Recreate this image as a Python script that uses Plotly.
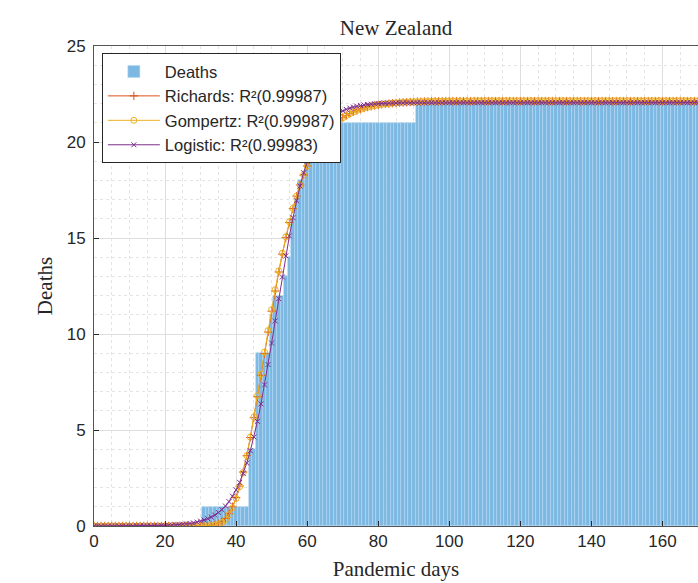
import plotly.graph_objects as go

# ---------------- data ----------------
days = list(range(0, 171))

deaths = (
    [0, 0, 0, 0, 0, 0, 0, 0, 0, 0, 0, 0, 0, 0, 0, 0, 0, 0, 0, 0,
     0, 0, 0, 0, 0, 0, 0, 0, 0, 0, 0]
    + [1, 1, 1, 1, 1, 1, 1, 1, 1, 1, 1, 1, 1]
    + [4, 4, 9, 9, 9, 9, 11, 12, 12, 12, 13, 14, 16, 17, 18, 18, 19, 19, 19]
    + [20, 20, 20, 20, 20, 20]
    + [21, 21, 21, 21, 21, 21, 21, 21, 21, 21, 21, 21, 21, 21, 21, 21, 21, 21, 21, 21, 21, 21]
    + [22, 22, 22, 22, 22, 22, 22, 22, 22, 22, 22, 22, 22, 22, 22, 22, 22, 22, 22, 22,
       22, 22, 22, 22, 22, 22, 22, 22, 22, 22, 22, 22, 22, 22, 22, 22, 22, 22, 22, 22,
       22, 22, 22, 22, 22, 22, 22, 22, 22, 22, 22, 22, 22, 22, 22, 22, 22, 22, 22, 22,
       22, 22, 22, 22, 22, 22, 22, 22, 22, 22, 22, 22, 22, 22, 22, 22, 22, 22, 22, 22]
)

richards = (
    [0.00, 0.00, 0.00, 0.00, 0.00, 0.00, 0.00, 0.00, 0.00, 0.00, 0.00, 0.00, 0.00, 0.00, 0.00, 0.00,
     0.00, 0.00, 0.00, 0.00, 0.00, 0.00, 0.00, 0.00, 0.00, 0.00, 0.00, 0.00, 0.00, 0.00, 0.00, 0.00]
    + [0.01, 0.03, 0.06, 0.12, 0.22, 0.39, 0.64, 1.00, 1.48, 2.08, 2.81, 3.66, 4.61, 5.64, 6.73, 7.85,
       8.98, 10.10, 11.19, 12.24, 13.23, 14.16, 15.02, 15.81, 16.53, 17.18, 17.76, 18.28, 18.75, 19.16,
       19.53, 19.86, 20.15, 20.40, 20.62, 20.82, 20.99, 21.14, 21.27, 21.38, 21.48, 21.57, 21.64, 21.71,
       21.77, 21.82, 21.86, 21.90, 21.93, 21.96, 21.98, 22.00, 22.02, 22.03, 22.05, 22.06, 22.07, 22.08,
       22.09, 22.10, 22.10, 22.11, 22.11, 22.12, 22.12, 22.12, 22.12, 22.13]
    + [22.13, 22.13, 22.13, 22.13, 22.13, 22.13, 22.13]
    + [22.13, 22.13, 22.13, 22.13, 22.13, 22.13, 22.13, 22.13, 22.13, 22.13, 22.13, 22.13, 22.13, 22.13, 22.13, 22.13,
       22.13, 22.13, 22.13, 22.13, 22.13, 22.13, 22.13, 22.13, 22.13, 22.13, 22.13, 22.13, 22.13, 22.13, 22.13, 22.13,
       22.13, 22.13, 22.13, 22.13, 22.13, 22.13, 22.13, 22.13, 22.13, 22.13, 22.13, 22.13, 22.13, 22.13, 22.13, 22.13,
       22.13, 22.13, 22.13, 22.13, 22.13, 22.13, 22.13, 22.13, 22.13, 22.13, 22.13, 22.13, 22.13, 22.13, 22.13, 22.13]
)

gompertz = (
    [0.00, 0.00, 0.00, 0.00, 0.00, 0.00, 0.00, 0.00, 0.00, 0.00, 0.00, 0.00, 0.00, 0.00, 0.00, 0.00,
     0.00, 0.00, 0.00, 0.00, 0.00, 0.00, 0.00, 0.00, 0.00, 0.00, 0.00, 0.00, 0.00, 0.00, 0.00, 0.00]
    + [0.01, 0.02, 0.04, 0.09, 0.18, 0.34, 0.59, 0.95, 1.43, 2.05, 2.79, 3.66, 4.63, 5.68, 6.79, 7.92,
       9.06, 10.18, 11.27, 12.31, 13.29, 14.21, 15.06, 15.84, 16.55, 17.19, 17.77, 18.29, 18.75, 19.16,
       19.53, 19.85, 20.14, 20.39, 20.61, 20.81, 20.98, 21.13, 21.26, 21.37, 21.47, 21.56, 21.64, 21.70,
       21.76, 21.81, 21.86, 21.89, 21.93, 21.96, 21.98, 22.00, 22.02, 22.04, 22.05, 22.07, 22.08, 22.09,
       22.10, 22.10, 22.11, 22.11, 22.12, 22.12, 22.13, 22.13, 22.13, 22.13]
    + [22.14, 22.14, 22.14, 22.14, 22.14, 22.14, 22.14]
    + [22.15, 22.15, 22.15, 22.15, 22.15, 22.15, 22.15, 22.15, 22.15, 22.15, 22.15, 22.15, 22.15, 22.15, 22.15, 22.15,
       22.15, 22.15, 22.15, 22.15, 22.15, 22.15, 22.15, 22.15, 22.15, 22.15, 22.15, 22.15, 22.15, 22.15, 22.15, 22.15,
       22.15, 22.15, 22.15, 22.15, 22.15, 22.15, 22.15, 22.15, 22.15, 22.15, 22.15, 22.15, 22.15, 22.15, 22.15, 22.15,
       22.15, 22.15, 22.15, 22.15, 22.15, 22.15, 22.15, 22.15, 22.15, 22.15, 22.15, 22.15, 22.15, 22.15, 22.15, 22.15]
)

logistic = (
    [0.00, 0.00, 0.00, 0.00, 0.00, 0.00, 0.00, 0.00, 0.00, 0.00, 0.00, 0.00,
     0.01, 0.01, 0.01, 0.01, 0.01, 0.02, 0.02, 0.02]
    + [0.03, 0.04, 0.05, 0.06, 0.07, 0.09, 0.11, 0.13, 0.16, 0.20, 0.25, 0.31, 0.38, 0.46, 0.57, 0.70,
       0.85, 1.04, 1.27, 1.55, 1.88, 2.27, 2.74, 3.28, 3.92, 4.64, 5.45, 6.36, 7.35, 8.41, 9.53, 10.68,
       11.84, 12.97, 14.07, 15.11, 16.06, 16.94, 17.71, 18.40, 18.99, 19.51, 19.94, 20.31, 20.62, 20.88,
       21.09, 21.26, 21.41, 21.53, 21.62, 21.70, 21.77, 21.82, 21.86, 21.90, 21.93, 21.95, 21.97, 21.99,
       22.00, 22.01, 22.02, 22.02, 22.03, 22.03, 22.04, 22.04, 22.04, 22.04, 22.04]
    + [22.05, 22.05, 22.05, 22.05, 22.05, 22.05, 22.05, 22.05, 22.05, 22.05, 22.05, 22.05, 22.05, 22.05, 22.05, 22.05,
       22.05, 22.05, 22.05, 22.05, 22.05, 22.05, 22.05, 22.05, 22.05, 22.05, 22.05, 22.05, 22.05, 22.05, 22.05, 22.05,
       22.05, 22.05, 22.05, 22.05, 22.05, 22.05, 22.05, 22.05, 22.05, 22.05, 22.05, 22.05, 22.05, 22.05, 22.05, 22.05,
       22.05, 22.05, 22.05, 22.05, 22.05, 22.05, 22.05, 22.05, 22.05, 22.05, 22.05, 22.05, 22.05, 22.05, 22.05, 22.05,
       22.05, 22.05, 22.05, 22.05, 22.05, 22.05, 22.05, 22.05, 22.05, 22.05, 22.05, 22.05, 22.05, 22.05, 22.05, 22.05]
)

labels = ["Deaths", "Richards: R²(0.99987)", "Gompertz: R²(0.99987)", "Logistic: R²(0.99983)"]
x_ticks = [0, 20, 40, 60, 80, 100, 120, 140, 160]
y_ticks = [0, 5, 10, 15, 20, 25]

# ---------------- figure ----------------
fig = go.Figure()
fig.add_trace(go.Bar(
    x=days, y=deaths, name=labels[0],
    marker=dict(color="#7cb8e2", line=dict(color="#b4d8f1", width=0.6)),
))
fig.add_trace(go.Scatter(
    x=days, y=richards, name=labels[1], mode="lines+markers",
    line=dict(color="#D95319", width=1),
    marker=dict(symbol="cross-thin", size=6, line=dict(color="#D95319", width=1)),
))
fig.add_trace(go.Scatter(
    x=days, y=gompertz, name=labels[2], mode="lines+markers",
    line=dict(color="#EDB120", width=1),
    marker=dict(symbol="circle-open", size=6, color="#EDB120", line=dict(color="#EDB120", width=1)),
))
fig.add_trace(go.Scatter(
    x=days, y=logistic, name=labels[3], mode="lines+markers",
    line=dict(color="#7E2F8E", width=1),
    marker=dict(symbol="x-thin", size=5, line=dict(color="#7E2F8E", width=1)),
))

axis_font = dict(family="Liberation Sans, Arial", size=17, color="#262626")
serif = dict(family="Liberation Serif, Times New Roman, serif", size=21, color="#262626")

fig.update_layout(
    width=698, height=583,
    margin=dict(l=94, r=0, t=46, b=57),
    paper_bgcolor="white", plot_bgcolor="white",
    bargap=0.0,
    title=dict(text="New Zealand", xref="paper", x=0.5, xanchor="center", y=0.953, yanchor="middle",
               font=dict(family="Liberation Serif, Times New Roman, serif", size=21, color="#262626")),
    showlegend=True,
    legend=dict(x=0.013, y=0.985, xanchor="left", yanchor="top",
                bgcolor="white", bordercolor="#262626", borderwidth=1,
                font=dict(family="Liberation Sans, Arial", size=16.5, color="#262626"),
                tracegroupgap=0, itemwidth=52),
    xaxis=dict(range=[0, 170], tickvals=x_ticks, ticks="inside", ticklen=5, tickcolor="#262626",
               showline=True, linecolor="#555555", linewidth=1, mirror=True,
               showgrid=True, gridcolor="#dedede", gridwidth=1, zeroline=False,
               tickfont=axis_font,
               minor=dict(dtick=5, showgrid=True, gridcolor="#e4e4e4", griddash="dot", ticks=""),
               title=dict(text="Pandemic days", font=serif, standoff=10)),
    yaxis=dict(range=[0, 25], tickvals=y_ticks, ticks="inside", ticklen=5, tickcolor="#262626",
               showline=True, linecolor="#555555", linewidth=1, mirror=False,
               showgrid=True, gridcolor="#dedede", gridwidth=1, zeroline=False,
               tickfont=axis_font, ticklabelstandoff=4,
               minor=dict(dtick=1, showgrid=True, gridcolor="#e4e4e4", griddash="dot", ticks=""),
               title=dict(text="Deaths", font=serif, standoff=8)),
)

fig.write_html(
    "out.html",
    config={"displayModeBar": False},
    post_script="document.body.style.margin='0px';document.body.style.overflow='hidden';",
)
